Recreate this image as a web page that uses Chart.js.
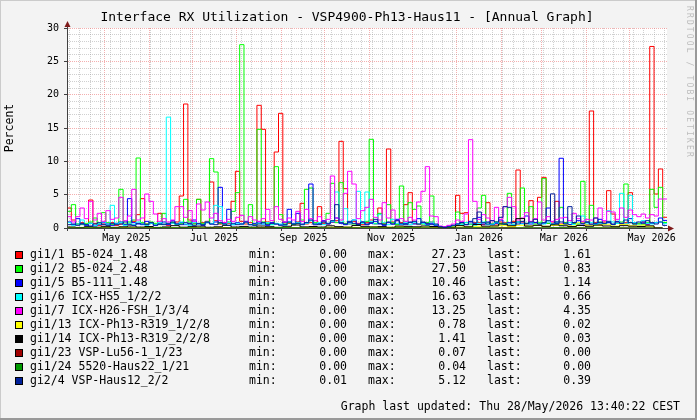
<!DOCTYPE html>
<html>
<head>
<meta charset="utf-8">
<script src="https://cdn.jsdelivr.net/npm/chart.js@4.4.1/dist/chart.umd.min.js"></script>
<style>
html, body { margin: 0; padding: 0; background: #f3f3f3; }
</style>
</head>
<body>
<canvas id="rrdChart" width="697" height="420"></canvas>
<script>
// x axis is in days, day 0 = 1 May 2025
var startDay = -26;
var endDay = 391;

// month starts, and the ones that carry a label
var monthDays = [0, 31, 61, 92, 123, 153, 184, 214, 245, 276, 304, 335, 365];
var labelDays = [0, 61, 123, 184, 245, 304, 365];
var labelText = ["May 2025", "Jul 2025", "Sep 2025", "Nov 2025", "Jan 2026", "Mar 2026", "May 2026"];

var seriesNames = [
  "gi1/1 B5-024_1.48",
  "gi1/2 B5-024_2.48",
  "gi1/5 B5-111_1.48",
  "gi1/6 ICX-HS5_1/2/2",
  "gi1/7 ICX-H26-FSH_1/3/4",
  "gi1/13 ICX-Ph13-R319_1/2/8",
  "gi1/14 ICX-Ph13-R319_2/2/8",
  "gi1/23 VSP-Lu56-1_1/23",
  "gi1/24 5520-Haus22_1/21",
  "gi2/4 VSP-Haus12_2/2"
];
var seriesColors = ["#FF0000", "#00FF00", "#0000FF", "#00FFFF", "#FF00FF",
                    "#FFFF00", "#000000", "#A00000", "#009A00", "#00209A"];
var legendMin  = ["0.00", "0.00", "0.00", "0.00", "0.00", "0.00", "0.00", "0.00", "0.00", "0.01"];
var legendMax  = ["27.23", "27.50", "10.46", "16.63", "13.25", "0.78", "1.41", "0.07", "0.04", "5.12"];
var legendLast = ["1.61", "0.83", "1.14", "0.66", "4.35", "0.02", "0.03", "0.00", "0.00", "0.39"];

// 3 day samples
var redVals = [
  0.5, 3.0, 1.2, 0.6, 0.8, 0.5, 4.2, 0.7, 0.4, 0.6,
  0.5, 0.8, 0.4, 0.6, 0.5, 0.7, 1.0, 2.0, 4.4, 0.6,
  0.8, 0.5, 2.2, 0.6, 0.4, 0.7, 0.9, 4.8, 18.6, 1.2,
  0.7, 4.3, 0.8, 1.0, 6.9, 1.1, 0.6, 0.8, 0.7, 4.0,
  8.5, 1.0, 0.6, 0.8, 0.5, 18.4, 14.8, 0.9, 0.6, 11.4,
  17.2, 0.8, 0.7, 0.5, 0.9, 3.7, 0.6, 0.8, 0.5, 3.2,
  0.7, 0.6, 0.9, 1.1, 13.0, 5.9, 0.6, 1.0, 0.7, 0.5,
  0.8, 1.2, 0.6, 3.0, 0.7, 11.85, 0.9, 0.6, 0.8, 3.5,
  5.3, 0.7, 0.5, 0.8, 0.6, 0.9, 0.5, 0.2, 0.1, 0.2,
  0.3, 4.9, 2.2, 2.3, 0.6, 0.8, 0.8, 0.5, 3.8, 0.7,
  0.6, 0.9, 0.8, 0.6, 1.0, 8.7, 0.9, 0.6, 4.1, 0.8,
  4.6, 7.6, 0.7, 0.9, 4.0, 0.6, 0.8, 0.5, 0.7, 0.6,
  0.9, 0.5, 17.55, 0.8, 0.6, 0.9, 5.6, 2.1, 0.7, 0.6,
  0.8, 5.3, 0.7, 0.6, 0.9, 0.5, 27.23, 5.1, 8.85, 1.61
];
var greenVals = [
  1.7, 2.5, 3.5, 0.6, 0.5, 0.7, 0.9, 1.5, 0.6, 2.3,
  0.8, 0.5, 0.7, 5.8, 0.6, 0.9, 1.2, 10.5, 0.8, 0.6,
  0.9, 0.7, 0.5, 2.2, 0.6, 0.8, 0.5, 0.7, 4.3, 0.9,
  0.6, 4.3, 0.7, 0.8, 10.4, 8.4, 0.7, 0.6, 0.9, 2.5,
  5.3, 27.5, 0.8, 3.5, 0.6, 14.8, 0.9, 0.7, 0.5, 9.2,
  2.0, 0.6, 0.8, 0.5, 0.7, 1.2, 5.8, 6.0, 0.8, 0.6,
  0.9, 2.2, 6.7, 0.8, 6.8, 0.7, 0.9, 0.6, 0.5, 0.8,
  1.0, 13.3, 0.7, 2.2, 0.6, 3.5, 0.8, 0.5, 6.3, 0.7,
  3.8, 2.8, 3.3, 0.6, 0.8, 4.8, 0.5, 0.2, 0.1, 0.2,
  0.3, 2.4, 0.6, 0.8, 0.5, 0.7, 3.0, 4.9, 0.8, 0.6,
  0.9, 0.7, 0.6, 5.2, 0.8, 0.9, 6.0, 0.7, 3.2, 0.6,
  0.8, 7.4, 0.7, 0.6, 0.9, 3.1, 0.8, 0.5, 0.7, 0.6,
  7.0, 0.8, 3.4, 0.7, 0.9, 0.6, 0.8, 0.5, 0.7, 0.9,
  6.6, 0.8, 0.6, 0.7, 0.5, 0.8, 5.8, 3.1, 6.1, 0.83
];
var blueVals = [
  0.4, 0.9, 0.5, 1.4, 0.6, 0.4, 0.7, 0.3, 0.5, 0.8,
  0.6, 0.4, 0.7, 0.9, 0.5, 4.4, 0.8, 0.6, 0.5, 1.0,
  0.7, 0.4, 0.6, 0.9, 0.5, 1.1, 0.6, 0.8, 0.5, 0.7,
  1.2, 0.6, 0.4, 0.8, 0.6, 0.9, 6.1, 0.7, 2.8, 0.5,
  0.8, 0.6, 1.0, 0.5, 0.7, 0.9, 0.6, 0.4, 0.8, 0.6,
  0.5, 0.9, 2.8, 0.7, 2.2, 0.6, 0.8, 6.6, 0.5, 0.7,
  1.1, 0.6, 0.9, 1.5, 0.7, 0.5, 0.8, 1.2, 0.6, 0.9,
  0.5, 0.7, 1.0, 0.6, 0.4, 0.8, 0.6, 1.3, 0.5, 0.7,
  0.9, 0.6, 1.4, 0.8, 0.5, 0.7, 0.4, 0.2, 0.2, 0.3,
  0.4, 0.6, 0.8, 0.5, 1.0, 0.7, 1.6, 0.6, 0.9, 0.5,
  0.7, 1.2, 0.6, 0.8, 0.5, 0.9, 0.7, 1.8, 0.6, 0.8,
  0.5, 0.7, 3.0, 0.6, 0.9, 10.46, 0.7, 0.5, 0.8, 1.1,
  0.6, 0.9, 0.5, 0.7, 1.3, 0.6, 0.8, 0.5, 1.0, 0.7,
  0.6, 1.4, 0.8, 0.5, 0.9, 0.6, 0.7, 0.8, 1.5, 1.14
];
var cyanVals = [
  0.5, 0.8, 0.4, 0.6, 1.2, 0.5, 0.7, 0.4, 0.6, 0.9,
  0.5, 3.4, 0.6, 0.8, 0.4, 0.7, 0.5, 0.9, 0.6, 0.4,
  0.7, 0.5, 0.8, 0.6, 16.63, 0.7, 0.5, 0.9, 0.6, 0.4,
  0.8, 0.6, 0.5, 0.9, 0.7, 3.4, 3.2, 0.6, 0.8, 0.5,
  0.7, 0.6, 0.9, 0.5, 0.4, 0.7, 0.6, 0.8, 0.5, 0.7,
  0.6, 0.4, 0.9, 0.6, 0.8, 0.5, 0.7, 1.1, 0.6, 0.8,
  0.5, 0.7, 1.0, 5.4, 0.9, 2.9, 0.6, 1.2, 5.5, 0.7,
  5.4, 1.0, 0.6, 2.0, 0.8, 0.5, 1.3, 0.7, 0.6, 0.9,
  0.5, 0.8, 0.6, 0.7, 0.4, 0.9, 0.5, 0.2, 0.1, 0.2,
  0.4, 0.6, 0.5, 0.8, 0.6, 0.4, 0.7, 0.9, 0.5, 0.6,
  0.8, 0.4, 0.7, 0.6, 0.5, 0.9, 0.6, 0.4, 0.8, 0.5,
  0.7, 0.6, 0.9, 0.5, 0.7, 0.4, 0.6, 0.8, 0.5, 0.7,
  1.8, 0.6, 0.8, 0.5, 0.7, 0.6, 2.6, 0.9, 0.7, 5.2,
  0.6, 4.9, 0.8, 0.5, 1.1, 0.7, 0.6, 0.8, 0.9, 0.66
];
var magentaVals = [
  0.8, 1.7, 0.9, 1.7, 3.0, 1.4, 4.0, 1.2, 2.2, 1.0,
  2.6, 1.3, 1.5, 4.6, 1.1, 1.8, 5.8, 1.2, 1.5, 5.1,
  4.0, 2.1, 1.0, 1.4, 0.9, 1.2, 3.2, 3.2, 1.6, 2.6,
  1.0, 3.6, 2.7, 3.9, 1.5, 2.2, 1.1, 0.8, 1.3, 1.0,
  1.6, 1.9, 0.9, 1.7, 1.2, 1.0, 1.4, 2.8, 1.1, 3.2,
  1.3, 0.9, 1.5, 1.2, 2.5, 1.0, 2.8, 1.4, 1.1, 1.7,
  1.0, 1.3, 7.8, 1.5, 1.2, 5.2, 8.5, 6.6, 1.4, 2.6,
  3.1, 4.3, 1.6, 1.2, 3.8, 1.5, 2.7, 1.1, 1.4, 1.0,
  1.6, 1.2, 3.9, 5.5, 9.2, 1.8, 1.7, 0.3, 0.2, 0.4,
  0.6, 1.2, 1.0, 2.1, 13.25, 4.0, 1.3, 2.0, 1.5, 1.1,
  3.1, 1.3, 3.2, 4.6, 3.2, 1.2, 1.5, 2.3, 1.0, 1.4,
  3.9, 1.2, 1.7, 1.0, 1.3, 1.5, 1.6, 1.1, 2.2, 1.4,
  1.0, 1.3, 1.2, 1.5, 3.0, 1.1, 2.5, 2.4, 1.3, 3.0,
  1.6, 2.7, 2.0, 1.7, 2.1, 1.5, 2.0, 1.8, 4.35, 4.35
];
var navyVals = [
  0.3, 0.5, 0.6, 0.4, 0.7, 0.5, 0.3, 0.6, 0.8, 0.5,
  0.4, 0.7, 0.5, 0.6, 0.9, 0.5, 0.4, 0.7, 0.6, 0.5,
  0.8, 0.4, 0.6, 0.5, 0.7, 0.9, 0.6, 0.5, 0.8, 0.6,
  0.4, 0.7, 0.5, 0.9, 0.6, 0.5, 0.8, 0.6, 0.4, 0.7,
  0.5, 0.6, 0.9, 0.5, 0.4, 0.6, 0.8, 0.5, 0.7, 0.6,
  0.4, 0.5, 0.9, 0.6, 0.7, 0.5, 0.8, 1.2, 0.6, 0.5,
  0.9, 0.7, 1.1, 3.5, 0.8, 0.6, 1.0, 0.7, 0.5, 0.9,
  0.6, 0.8, 1.3, 0.7, 0.5, 0.9, 0.6, 1.1, 0.7, 0.5,
  0.8, 1.0, 0.6, 0.9, 0.7, 0.5, 0.6, 0.2, 0.1, 0.2,
  0.4, 0.6, 0.8, 0.5, 0.9, 1.4, 2.4, 0.8, 0.6, 1.1,
  0.9, 1.6, 3.2, 3.1, 0.8, 0.6, 1.0, 0.7, 0.9, 1.3,
  0.6, 0.8, 1.1, 5.12, 0.7, 0.9, 0.6, 3.2, 0.8, 1.8,
  0.7, 0.9, 0.6, 1.5, 0.8, 0.7, 1.0, 0.6, 0.9, 0.7,
  1.2, 0.8, 0.6, 0.9, 0.7, 1.1, 0.8, 0.6, 0.9, 0.39
];
// 6 day samples
var yellowVals = [
  0.03, 0.05, 0.02, 0.04, 0.06, 0.03, 0.05, 0.08, 0.04, 0.02,
  0.05, 0.07, 0.03, 0.04, 0.06, 0.05, 0.03, 0.08, 0.04, 0.06,
  0.05, 0.03, 0.07, 0.04, 0.05, 0.09, 0.06, 0.04, 0.08, 0.05,
  0.07, 0.12, 0.08, 0.15, 0.10, 0.06, 0.18, 0.09, 0.12, 0.20,
  0.12, 0.08, 0.15, 0.10, 0.02, 0.03, 0.32, 0.18, 0.25, 0.12,
  0.28, 0.35, 0.22, 0.40, 0.30, 0.45, 0.26, 0.38, 0.52, 0.30,
  0.78, 0.42, 0.35, 0.48, 0.28, 0.55, 0.33, 0.44, 0.25, 0.02
];
var blackVals = [
  0.10, 0.15, 0.08, 0.20, 0.12, 0.25, 0.10, 0.18, 0.30, 0.14,
  0.22, 0.09, 0.16, 0.35, 0.12, 0.20, 0.28, 0.11, 0.18, 0.40,
  0.15, 0.24, 0.13, 0.30, 0.19, 0.10, 0.26, 0.45, 0.17, 0.22,
  0.14, 0.33, 0.20, 0.12, 0.38, 0.25, 0.16, 0.21, 0.10, 0.29,
  0.25, 0.18, 0.30, 0.22, 0.05, 0.04, 0.36, 0.18, 0.52, 0.27,
  0.31, 0.60, 0.34, 1.41, 0.28, 0.40, 0.25, 0.48, 0.33, 0.21,
  0.37, 0.26, 0.44, 0.30, 0.19, 0.35, 0.27, 0.23, 0.32, 0.03
];
// 12 day samples
var darkRedVals = [
  0.01, 0.02, 0.00, 0.03, 0.01, 0.02, 0.04, 0.01, 0.00, 0.02,
  0.03, 0.01, 0.07, 0.02, 0.01, 0.00, 0.03, 0.02, 0.01, 0.04,
  0.02, 0.00, 0.01, 0.03, 0.02, 0.01, 0.05, 0.02, 0.01, 0.03,
  0.02, 0.01, 0.02, 0.01, 0.00
];
var darkGreenVals = [
  0.00, 0.01, 0.02, 0.01, 0.00, 0.01, 0.03, 0.02, 0.01, 0.00,
  0.01, 0.02, 0.01, 0.04, 0.02, 0.01, 0.00, 0.01, 0.02, 0.01,
  0.03, 0.01, 0.00, 0.01, 0.02, 0.01, 0.00, 0.02, 0.01, 0.03,
  0.01, 0.02, 0.01, 0.00, 0.00
];

var allVals = [redVals, greenVals, blueVals, cyanVals, magentaVals,
               yellowVals, blackVals, darkRedVals, darkGreenVals, navyVals];
var allSteps = [3, 3, 3, 3, 3, 6, 6, 12, 12, 3];

function toPoints(vals, step) {
  var pts = [];
  for (var i = 0; i < vals.length; i++) {
    pts.push({ x: startDay + i * step, y: vals[i] });
  }
  return pts;
}

// weekly minor grid (mondays) plus the month lines
var gridDays = [];
for (var d = -24; d <= endDay; d += 7) gridDays.push(d);
monthDays.forEach(function (m) { if (gridDays.indexOf(m) < 0) gridDays.push(m); });
gridDays.sort(function (a, b) { return a - b; });

var minorGrid = "rgba(150,150,150,0.45)";
var majorGrid = "rgba(235,110,110,0.55)";
var fontName = "'DejaVu Sans Mono', monospace";

var datasets = [];
for (var i = 0; i < seriesNames.length; i++) {
  datasets.push({
    label: seriesNames[i],
    data: toPoints(allVals[i], allSteps[i]),
    borderColor: seriesColors[i],
    borderWidth: 1,
    pointRadius: 0,
    fill: false,
    stepped: "after",
    order: seriesNames.length - 1 - i   // last series drawn on top, like rrdtool
  });
}

var rrdLook = {
  id: "rrdLook",
  beforeDraw: function (chart) {
    var ctx = chart.ctx, a = chart.chartArea, w = chart.width, h = chart.height;
    ctx.save();
    ctx.fillStyle = "#f3f3f3";
    ctx.fillRect(0, 0, w, h);
    ctx.fillStyle = "#cbcbcb";
    ctx.fillRect(0, 0, w, 1);
    ctx.fillRect(0, 0, 1, h);
    ctx.fillStyle = "#999999";
    ctx.fillRect(0, h - 2, w, 2);
    ctx.fillRect(w - 2, 0, 2, h);
    ctx.fillStyle = "#ffffff";
    ctx.fillRect(a.left, a.top, a.right - a.left, a.bottom - a.top);
    ctx.restore();
  },
  afterDraw: function (chart) {
    var ctx = chart.ctx, a = chart.chartArea;
    ctx.save();

    // axis extensions and arrows
    ctx.strokeStyle = "#404040";
    ctx.lineWidth = 1;
    ctx.beginPath();
    ctx.moveTo(a.left - 3, a.bottom + 0.5);
    ctx.lineTo(a.right + 3, a.bottom + 0.5);
    ctx.moveTo(a.left + 0.5, a.bottom + 3);
    ctx.lineTo(a.left + 0.5, a.top - 3);
    ctx.stroke();
    ctx.fillStyle = "#7f1b1b";
    ctx.beginPath();
    ctx.moveTo(a.left + 0.5, a.top - 7);
    ctx.lineTo(a.left - 2.5, a.top - 1);
    ctx.lineTo(a.left + 3.5, a.top - 1);
    ctx.closePath();
    ctx.fill();
    ctx.beginPath();
    ctx.moveTo(a.right + 7, a.bottom + 0.5);
    ctx.lineTo(a.right + 1, a.bottom - 2.5);
    ctx.lineTo(a.right + 1, a.bottom + 3.5);
    ctx.closePath();
    ctx.fill();

    // title
    ctx.fillStyle = "#000";
    ctx.font = "13px " + fontName;
    ctx.textAlign = "center";
    ctx.textBaseline = "middle";
    ctx.fillText("Interface RX Utilization - VSP4900-Ph13-Haus11 - [Annual Graph]", 347, 18);

    // legend
    ctx.font = "11.5px " + fontName;
    for (var i = 0; i < seriesNames.length; i++) {
      var y = 255 + i * 14;
      ctx.fillStyle = seriesColors[i];
      ctx.fillRect(15, y - 4, 8, 8);
      ctx.strokeStyle = "#000";
      ctx.strokeRect(15.5, y - 3.5, 7, 7);
      ctx.fillStyle = "#000";
      ctx.textAlign = "left";
      ctx.fillText(seriesNames[i], 30, y);
      ctx.fillText("min:", 249, y);
      ctx.fillText("max:", 368, y);
      ctx.fillText("last:", 487, y);
      ctx.textAlign = "right";
      ctx.fillText(legendMin[i], 347, y);
      ctx.fillText(legendMax[i], 466, y);
      ctx.fillText(legendLast[i], 591, y);
    }
    ctx.textAlign = "right";
    ctx.fillText("Graph last updated: Thu 28/May/2026 13:40:22 CEST", 680, 407);

    // watermark on the right edge
    var mark = "RRDTOOL / TOBI OETIKER";
    ctx.translate(689, 6);
    ctx.rotate(Math.PI / 2);
    ctx.fillStyle = "#bdbdbd";
    ctx.font = "8px " + fontName;
    ctx.textAlign = "left";
    for (var k = 0; k < mark.length; k++) {
      ctx.fillText(mark[k], k * 6.95, 0);
    }
    ctx.restore();
  }
};

new Chart(document.getElementById("rrdChart"), {
  type: "line",
  data: { datasets: datasets },
  options: {
    responsive: false,
    animation: false,
    events: [],
    layout: { padding: { left: 0, top: 28, right: 30, bottom: 0 } },
    plugins: { legend: { display: false }, tooltip: { enabled: false } },
    scales: {
      x: {
        type: "linear",
        min: startDay,
        max: endDay,
        afterFit: function (scale) { scale.height = 192; },
        afterBuildTicks: function (scale) {
          scale.ticks = gridDays.map(function (v) { return { value: v }; });
        },
        grid: {
          color: function (c) { return monthDays.indexOf(c.tick.value) >= 0 ? majorGrid : minorGrid; },
          tickLength: 3,
          tickColor: function (c) { return monthDays.indexOf(c.tick.value) >= 0 ? "#404040" : "rgba(0,0,0,0)"; }
        },
        border: { display: true, color: "#404040", dash: [1, 1] },
        ticks: {
          autoSkip: false,
          maxRotation: 0,
          minRotation: 0,
          padding: 1,
          labelOffset: 22,
          color: "#000",
          font: { family: fontName, size: 10 },
          callback: function (value) {
            var k = labelDays.indexOf(value);
            return k >= 0 ? labelText[k] : "";
          }
        }
      },
      y: {
        min: 0,
        max: 30,
        afterFit: function (scale) { scale.width = 67; },
        afterBuildTicks: function (scale) {
          var t = [];
          for (var v = 0; v <= 30; v++) t.push({ value: v });
          scale.ticks = t;
        },
        grid: {
          color: function (c) { return c.tick.value % 5 === 0 ? majorGrid : minorGrid; },
          tickLength: 3,
          tickColor: function (c) { return c.tick.value % 5 === 0 ? "#404040" : "rgba(0,0,0,0)"; }
        },
        border: { display: true, color: "#404040", dash: [1, 1] },
        title: {
          display: true,
          text: "Percent",
          color: "#000",
          font: { family: fontName, size: 11.5 },
          padding: { top: 3, bottom: 0 }
        },
        ticks: {
          autoSkip: false,
          padding: 5,
          color: "#000",
          font: { family: fontName, size: 10 },
          callback: function (value) { return value % 5 === 0 ? String(value) : ""; }
        }
      }
    }
  },
  plugins: [rrdLook]
});
</script>
</body>
</html>
